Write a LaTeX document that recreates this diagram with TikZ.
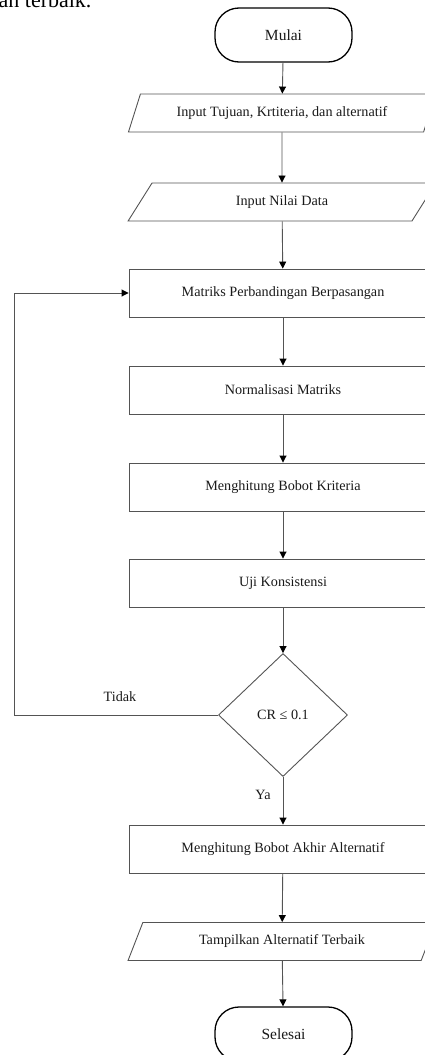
\documentclass[tikz,border=0pt]{standalone}
\usepackage{fontspec}
\setmainfont{Liberation Serif}
\usepackage{tikz}
\usetikzlibrary{shapes.geometric}
\usetikzlibrary{arrows.meta}
\definecolor{linegray}{rgb}{0.33,0.33,0.33}
\definecolor{textgray}{rgb}{0.1,0.1,0.1}
\tikzset{
  terminal/.style={draw=black,line width=1.3pt,rounded corners=24pt,
    minimum width=137pt,minimum height=54pt,font=\fontsize{15.5}{18}\selectfont},
  process/.style={draw=linegray,line width=0.9pt,minimum width=308pt,minimum height=48pt},
  io/.style={draw=linegray,line width=0.9pt,trapezium,trapezium left angle=65,
    trapezium right angle=115,trapezium stretches=true,minimum width=308pt,minimum height=38pt},
  decision/.style={draw=linegray,line width=0.9pt,diamond,inner sep=0pt,
    minimum width=129pt,minimum height=123pt},
  flow/.style={draw=linegray,line width=0.9pt,-{Triangle[length=7pt,width=7pt,color=black]}}
}

\begin{document}
\begin{tikzpicture}[x=1pt,y=-1pt,text=textgray,font=\fontsize{14.2}{17}\selectfont]
      \useasboundingbox (0,0) rectangle (425,1055);
      %% sisa kalimat dari halaman
      \node[anchor=base east,text=black,font=\fontsize{22}{26}\selectfont] (judul) at (95,7) {an terbaik.};
      \node[terminal] (mulai) at (283.5,35) {Mulai};
      \node[io] (input1) at (282,113) {Input Tujuan, Krtiteria, dan alternatif};
      \node[io] (input2) at (282,202) {Input Nilai Data};
      \node[process] (matriks) at (283,293) {Matriks Perbandingan Berpasangan};
      \node[process] (normal) at (283,390) {Normalisasi Matriks};
      \node[process] (bobot) at (283,487) {Menghitung Bobot Kriteria};
      \node[process] (uji) at (283,583) {Uji Konsistensi};
      \node[decision] (cek) at (283,715) {CR ≤ 0.1};
      \node[process] (akhir) at (283,849) {Menghitung Bobot Akhir Alternatif};
      \node[io] (tampil) at (282,941.5) {Tampilkan Alternatif Terbaik};
      \node[terminal] (selesai) at (283.5,1034) {Selesai};
      %% label cabang
      \node (tidak) at (120,697) {Tidak};
      \node (ya) at (263,795) {Ya};
      \coordinate (balik) at (14,715);
      %% panah
      \draw[flow] (mulai) -- (input1);
      \draw[flow] (input1) -- (input2);
      \draw[flow] (input2) -- (matriks);
      \draw[flow] (matriks) -- (normal);
      \draw[flow] (normal) -- (bobot);
      \draw[flow] (bobot) -- (uji);
      \draw[flow] (uji) -- (cek);
      \draw[flow] (cek.west) -- (balik) |- (matriks.west);
      \draw[flow] (cek) -- (akhir);
      \draw[flow] (akhir) -- (tampil);
      \draw[flow] (tampil) -- (selesai);
    \end{tikzpicture}
\end{document}
